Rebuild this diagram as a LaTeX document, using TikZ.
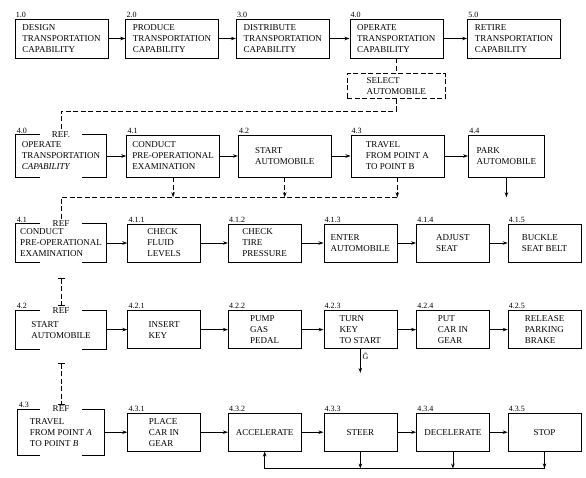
\documentclass[tikz,border=0pt]{standalone}
\usepackage{fontspec}
\setmainfont{Liberation Serif}
\usepackage{tikz}
\usetikzlibrary{positioning,arrows.meta}

\tikzset{
  fnbox/.style={draw, line width=0.6pt, align=left, inner sep=2pt, font=\fontsize{9}{11}\selectfont},
  bigbox/.style={fnbox, minimum width=93pt, minimum height=39pt},
  smallbox/.style={fnbox, minimum width=73pt, minimum height=38pt},
  refbox/.style={fnbox, draw=none, minimum width=90pt, minimum height=42pt},
  reftag/.style={inner sep=1pt, font=\fontsize{9}{10}\selectfont},
  num/.style={anchor=south west, inner sep=1pt, font=\fontsize{8}{9}\selectfont},
  flow/.style={->, line width=0.8pt},
  dashflow/.style={line width=0.8pt, dash pattern=on 5pt off 2.5pt},
}

\begin{document}
\begin{tikzpicture}[x=1pt, y=-1pt, >={Stealth[length=5pt,width=3.5pt]}]
\useasboundingbox (0,0) rectangle (586,477);
% top level
\node[bigbox, label={[num]north west:1.0}] (dsg) at (61.5,38.5) {DESIGN\\TRANSPORTATION\\CAPABILITY};
\node[bigbox, right=17pt of dsg, label={[num]north west:2.0}] (prd) {PRODUCE\\TRANSPORTATION\\CAPABILITY};
\node[bigbox, right=17pt of prd, label={[num]north west:3.0}] (dst) {DISTRIBUTE\\TRANSPORTATION\\CAPABILITY};
\node[bigbox, right=20pt of dst, label={[num]north west:4.0}] (opr) {OPERATE\\TRANSPORTATION\\CAPABILITY};
\node[bigbox, right=24pt of opr, label={[num]north west:5.0}] (ret) {RETIRE\\TRANSPORTATION\\CAPABILITY};
\node[fnbox, dash pattern=on 5pt off 2.5pt, minimum width=98pt, minimum height=25pt, below=15pt of opr] (sel) {SELECT\\AUTOMOBILE};
\draw[flow] (dsg) -- (prd);
\draw[flow] (prd) -- (dst);
\draw[flow] (dst) -- (opr);
\draw[flow] (opr) -- (ret);
\draw[dashflow] (opr) -- (sel);

% 4.0 operate
\node[refbox, label={[num]north west:4.0}] (opr0) at (61,156) {OPERATE\\TRANSPORTATION\\\textit{CAPABILITY}};
\node[reftag] (opr0ref) at (opr0.north) {REF.};
\node[bigbox, minimum height=42pt, right=20pt of opr0, label={[num]north west:4.1}] (cpe) {CONDUCT\\PRE-OPERATIONAL\\EXAMINATION};
\node[bigbox, minimum height=42pt, right=18pt of cpe, label={[num]north west:4.2}] (sta) {START\\AUTOMOBILE};
\node[bigbox, minimum height=42pt, right=19pt of sta, label={[num]north west:4.3}] (trv) {TRAVEL\\FROM POINT A\\TO POINT B};
\node[bigbox, minimum height=42pt, minimum width=76pt, right=24pt of trv, label={[num]north west:4.4}] (prk) {PARK\\AUTOMOBILE};
\draw[dashflow] (sel.south) -- ++(0,12) -| (opr0ref.north);
\draw[flow] (opr0) -- (cpe);
\draw[flow] (cpe) -- (sta);
\draw[flow] (sta) -- (trv);
\draw[flow] (trv) -- (prk);
\coordinate (bus) at ([yshift=-20pt]trv.south);
\coordinate (prkout) at ([yshift=-20pt]prk.south);
\draw[dashflow, ->] (cpe.south) -- (cpe.south |- bus);
\draw[dashflow, ->] (sta.south) -- (sta.south |- bus);
\draw[dashflow, ->] (trv.south) -- (bus);
\draw[flow] (prk) -- (prkout);

% 4.1 conduct pre-operational examination
\node[refbox, minimum height=38pt, label={[num]north west:4.1}] (cpe0) at (61,243) {CONDUCT\\PRE-OPERATIONAL\\EXAMINATION};
\node[reftag] (cpe0ref) at (cpe0.north) {REF};
\node[smallbox, right=21pt of cpe0, label={[num]north west:4.1.1}] (chf) {CHECK\\FLUID\\LEVELS};
\node[smallbox, right=27pt of chf, label={[num]north west:4.1.2}] (cht) {CHECK\\TIRE\\PRESSURE};
\node[smallbox, right=22pt of cht, label={[num]north west:4.1.3}] (ent) {ENTER\\AUTOMOBILE};
\node[smallbox, right=19pt of ent, label={[num]north west:4.1.4}] (adj) {ADJUST\\SEAT};
\node[smallbox, right=18pt of adj, label={[num]north west:4.1.5}] (bck) {BUCKLE\\SEAT BELT};
\draw[dashflow] (bus) -| (cpe0ref.north);
\draw[flow] (cpe0) -- (chf);
\draw[flow] (chf) -- (cht);
\draw[flow] (cht) -- (ent);
\draw[flow] (ent) -- (adj);
\draw[flow] (adj) -- (bck);

% 4.2 start automobile
\node[refbox, minimum height=38pt, below=48pt of cpe0, label={[num]north west:4.2}] (sta0) {START\\AUTOMOBILE};
\node[reftag] (sta0ref) at (sta0.north) {REF};
\node[smallbox, below=48pt of chf, label={[num]north west:4.2.1}] (ins) {INSERT\\KEY};
\node[smallbox, below=48pt of cht, label={[num]north west:4.2.2}] (pmp) {PUMP\\GAS\\PEDAL};
\node[smallbox, below=48pt of ent, label={[num]north west:4.2.3}] (trn) {TURN\\KEY\\TO START};
\node[smallbox, below=48pt of adj, label={[num]north west:4.2.4}] (put) {PUT\\CAR IN\\GEAR};
\node[smallbox, below=48pt of bck, label={[num]north west:4.2.5}] (rel) {RELEASE\\PARKING\\BRAKE};
\coordinate (cpe0end) at ([yshift=-16pt]cpe0.south);
\draw[dashflow, {Bar[width=7pt]}-{Bar[width=7pt]}] (cpe0end) -- (sta0ref.north);
\draw[flow] (sta0) -- (ins);
\draw[flow] (ins) -- (pmp);
\draw[flow] (pmp) -- (trn);
\draw[flow] (trn) -- (put);
\draw[flow] (put) -- (rel);
\coordinate (trnout) at ([yshift=-24pt]trn.south);
\draw[flow] (trn) -- node[right, pos=0.3, inner sep=2pt, font=\fontsize{8}{9}\selectfont] {\={G}} (trnout);

% 4.3 travel from point A to point B
\node[refbox, minimum width=86pt, minimum height=46pt, below=60pt of sta0, label={[num]north west:4.3}] (trv0) {TRAVEL\\FROM POINT \textit{A}\\TO POINT \textit{B}};
\node[reftag] (trv0ref) at (trv0.north) {REF};
\node[smallbox, below=64pt of ins, label={[num]north west:4.3.1}] (plc) {PLACE\\CAR IN\\GEAR};
\node[smallbox, below=64pt of pmp, label={[num]north west:4.3.2}] (acc) {ACCELERATE};
\node[smallbox, below=64pt of trn, label={[num]north west:4.3.3}] (str) {STEER};
\node[smallbox, below=64pt of put, label={[num]north west:4.3.4}] (dec) {DECELERATE};
\node[smallbox, below=64pt of rel, label={[num]north west:4.3.5}] (stp) {STOP};
\coordinate (sta0end) at ([yshift=-14pt]sta0.south);
\draw[dashflow, {Bar[width=7pt]}-{Bar[width=7pt]}] (sta0end) -- (trv0ref.north);
\draw[flow] (trv0) -- (plc);
\draw[flow] (plc) -- (acc);
\draw[flow] (acc) -- (str);
\draw[flow] (str) -- (dec);
\draw[flow] (dec) -- (stp);
\coordinate (fb) at ([yshift=-17pt]str.south);
\draw[flow] (str) -- (fb);
\draw[flow] (dec) -- (dec |- fb);
\draw[flow] (stp) -- (stp |- fb);
\draw[flow] (stp |- fb) -| (acc);

% reference blocks, open at top and bottom
\foreach \b in {opr0,cpe0,sta0,trv0} {
  \draw[line width=0.6pt] ([xshift=-21pt]\b.north) -| (\b.south west) -- ([xshift=-21pt]\b.south);
  \draw[line width=0.6pt] ([xshift=21pt]\b.north) -| (\b.south east) -- ([xshift=21pt]\b.south);
}
\end{tikzpicture}
\end{document}
